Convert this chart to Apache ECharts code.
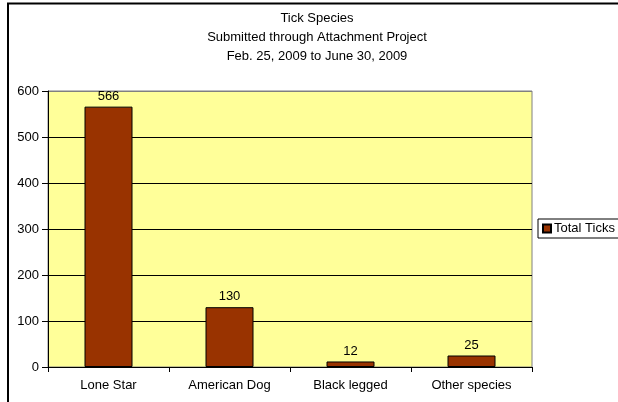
<!DOCTYPE html>
<html>
<head>
<meta charset="utf-8">
<script src="https://cdn.jsdelivr.net/npm/echarts@6/dist/echarts.min.js"></script>
<style>
  html, body { margin: 0; padding: 0; background: #fff; }
  #chart { width: 618px; height: 402px; }
</style>
</head>
<body>
<div id="chart"></div>
<script>
const species = ['Lone Star', 'American Dog', 'Black legged', 'Other species'];
const totalTicks = [566, 130, 12, 25];
const titleLines = ['Tick Species', 'Submitted through Attachment Project', 'Feb. 25, 2009 to June 30, 2009'];

const font = 'Liberation Sans, Arial, sans-serif';
const chart = echarts.init(document.getElementById('chart'));

chart.setOption({
  animation: false,
  backgroundColor: '#fff',
  title: {
    text: titleLines.join('\n'),
    left: 317,
    textAlign: 'center',
    top: 9,
    padding: 0,
    textStyle: { fontFamily: font, fontSize: 13, fontWeight: 'normal', color: '#000', lineHeight: 19 }
  },
  legend: {
    data: ['Total Ticks'],
    left: 538,
    top: 219,
    orient: 'vertical',
    icon: 'rect',
    itemWidth: 8,
    itemHeight: 8,
    itemGap: 4,
    padding: [3, 8, 3, 4],
    borderColor: '#000',
    borderWidth: 1,
    textStyle: { fontFamily: font, fontSize: 13, color: '#000', padding: [0, 0, 0, -2] }
  },
  grid: {
    left: 48, top: 91, right: 86, bottom: 35,
    show: true,
    backgroundColor: '#FFFF99',
    borderColor: '#808080',
    borderWidth: 1
  },
  xAxis: {
    type: 'category',
    data: species,
    axisLine: { lineStyle: { color: '#000', width: 1 } },
    axisTick: { show: true, length: 5, interval: 0, lineStyle: { color: '#000' } },
    axisLabel: { fontFamily: font, fontSize: 13, color: '#000', margin: 12, interval: 0 }
  },
  yAxis: {
    type: 'value',
    min: 0,
    max: 600,
    interval: 100,
    axisLine: { show: true, lineStyle: { color: '#000', width: 1 } },
    axisTick: { show: true, length: 6, lineStyle: { color: '#000' } },
    axisLabel: { fontFamily: font, fontSize: 13, color: '#000', margin: 9 },
    splitLine: { show: true, lineStyle: { color: ['#000', '#000', '#000', '#000', '#000', '#000', '#808080'], width: 1 } }
  },
  graphic: [{
    type: 'rect',
    silent: true,
    z: 100,
    shape: { x: 8, y: 3.5, width: 700, height: 500 },
    style: { fill: 'none', stroke: '#000', lineWidth: 2 }
  }],
  series: [{
    name: 'Total Ticks',
    type: 'bar',
    data: totalTicks,
    barWidth: 48,
    itemStyle: { color: '#993300', borderColor: '#000', borderWidth: 1 },
    label: {
      show: true,
      position: 'top',
      distance: 4,
      fontFamily: font,
      fontSize: 13,
      color: '#000'
    }
  }]
});
</script>
</body>
</html>
